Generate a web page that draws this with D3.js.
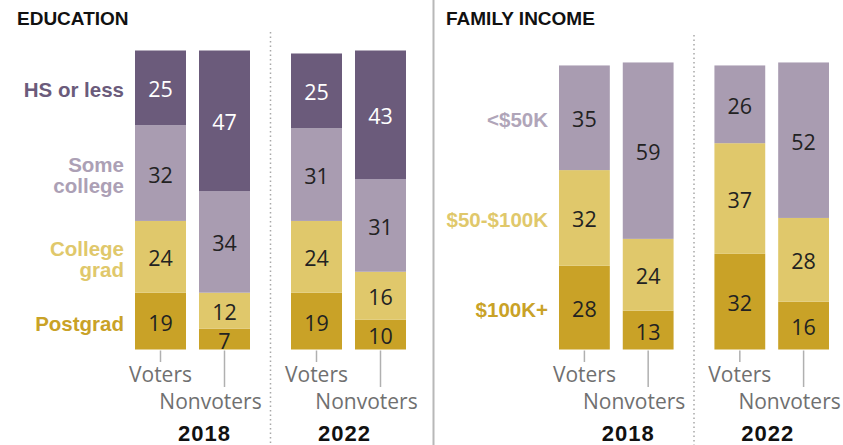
<!DOCTYPE html>
<html>
<head>
<meta charset="utf-8">
<script src="https://cdn.jsdelivr.net/npm/d3@7"></script>
<style>
  html, body { margin: 0; padding: 0; background: #fff; }
  svg { display: block; }
</style>
</head>
<body>
<svg id="chart" width="843" height="445"></svg>
<script>
// ---- data: shares (%) of each group, listed top to bottom of the stack ----
const years = ["2018", "2022"];
const groups = ["Voters", "Nonvoters"];

const eduCategories = ["HS or less", "Some college", "College grad", "Postgrad"];
const eduLabelLines = [["HS or less"], ["Some", "college"], ["College", "grad"], ["Postgrad"]];
const eduVoters2018 = [25, 32, 24, 19];
const eduNonvoters2018 = [47, 34, 12, 7];
const eduVoters2022 = [25, 31, 24, 19];
const eduNonvoters2022 = [43, 31, 16, 10];

const incomeCategories = ["<$50K", "$50-$100K", "$100K+"];
const incomeLabelLines = [["<$50K"], ["$50-$100K"], ["$100K+"]];
const incVoters2018 = [35, 32, 28];
const incNonvoters2018 = [59, 24, 13];
const incVoters2022 = [26, 37, 32];
const incNonvoters2022 = [52, 28, 16];

// ---- styling ----
const eduColors = ["#6b5b7b", "#a99cb1", "#e0c86b", "#c9a227"];
const eduLabelColors = ["#6b5b7b", "#aca0b5", "#e0c86b", "#c9a227"];
const incColors = ["#a99cb1", "#e0c86b", "#c9a227"];
const incLabelColors = ["#b0a5b9", "#e0c86b", "#c9a227"];

const svg = d3.select("#chart");
const W = 843, H = 445;
const baseY = 349.5;

const y = d3.scaleLinear().domain([0, 100]).range([baseY, baseY - 299]);

const panels = [
  {
    title: "EDUCATION", titleX: 17,
    range: [135, 406], labelX: 124, dottedTop: 32,
    categories: eduCategories, lines: eduLabelLines,
    colors: eduColors, labelColors: eduLabelColors,
    series: {
      "2018": { Voters: eduVoters2018, Nonvoters: eduNonvoters2018 },
      "2022": { Voters: eduVoters2022, Nonvoters: eduNonvoters2022 }
    }
  },
  {
    title: "FAMILY INCOME", titleX: 446,
    range: [559, 829], labelX: 548, dottedTop: 35,
    categories: incomeCategories, lines: incomeLabelLines,
    colors: incColors, labelColors: incLabelColors,
    series: {
      "2018": { Voters: incVoters2018, Nonvoters: incNonvoters2018 },
      "2022": { Voters: incVoters2022, Nonvoters: incNonvoters2022 }
    }
  }
];

const yearShift = { "2018": 12, "2022": -4 };
const sansFont = "'Open Sans', 'Liberation Sans', Arial, sans-serif";
const boldFont = "'Liberation Sans', Arial, sans-serif";

// solid divider between the two panels
svg.append("line")
  .attr("x1", 433.5).attr("x2", 433.5)
  .attr("y1", 0).attr("y2", H)
  .attr("stroke", "#b8b8b8").attr("stroke-width", 2);

panels.forEach(p => {
  const g = svg.append("g");

  const outer = d3.scaleBand().domain(years).range(p.range).paddingInner(41 / 156).paddingOuter(0);
  const inner = d3.scaleBand().domain(groups).range([0, outer.bandwidth()]).paddingInner(13 / 64).paddingOuter(0);

  // panel title
  g.append("text")
    .attr("x", p.titleX).attr("y", 25)
    .attr("font-family", boldFont).attr("font-weight", 700)
    .attr("font-size", 19).attr("fill", "#111")
    .text(p.title);

  // dotted divider between years
  const midX = (outer(years[0]) + outer.bandwidth() + outer(years[1])) / 2;
  g.append("line")
    .attr("x1", midX).attr("x2", midX)
    .attr("y1", p.dottedTop).attr("y2", H)
    .attr("stroke", "#a8a8a8").attr("stroke-width", 1.5)
    .attr("stroke-dasharray", "1.5,3");

  years.forEach(yr => {
    groups.forEach(grp => {
      const vals = p.series[yr][grp];
      const x0 = outer(yr) + inner(grp);
      const bw = inner.bandwidth();
      const cx = x0 + bw / 2;
      // stack from the bottom: last category sits at the base
      let cum = 0;
      const segs = [];
      for (let i = vals.length - 1; i >= 0; i--) {
        segs.push({ i, v: vals[i], lo: cum, hi: cum + vals[i] });
        cum += vals[i];
      }
      g.selectAll(null).data(segs).enter().append("rect")
        .attr("x", x0).attr("width", bw)
        .attr("y", d => y(d.hi)).attr("height", d => y(d.lo) - y(d.hi))
        .attr("fill", d => p.colors[d.i]);
      g.selectAll(null).data(segs).enter().append("text")
        .attr("x", cx).attr("y", d => y((d.lo + d.hi) / 2) + 1)
        .attr("text-anchor", "middle").attr("dominant-baseline", "central")
        .attr("font-family", sansFont).attr("font-size", 21.5)
        .attr("fill", d => (p.colors[d.i] === "#6b5b7b" ? "#fff" : "#222"))
        .text(d => d.v);

      // tick and group label
      const isVoters = grp === "Voters";
      g.append("line")
        .attr("x1", cx).attr("x2", cx)
        .attr("y1", baseY + 1).attr("y2", isVoters ? 362 : 387)
        .attr("stroke", "#b0b0b0").attr("stroke-width", 1.5);
      g.append("text")
        .attr("x", isVoters ? cx : cx - 14)
        .attr("y", isVoters ? 382 : 409)
        .attr("text-anchor", "middle")
        .attr("font-family", sansFont).attr("font-size", 21)
        .attr("fill", "#707070")
        .text(grp);
    });

    // year label
    g.append("text")
      .attr("x", outer(yr) + outer.bandwidth() / 2 + yearShift[yr])
      .attr("y", 441)
      .attr("text-anchor", "middle")
      .attr("font-family", boldFont).attr("font-weight", 700)
      .attr("font-size", 22).attr("letter-spacing", 1).attr("fill", "#111")
      .text(yr);
  });

  // category labels, aligned to the first bar's segments
  const firstVals = p.series[years[0]][groups[0]];
  let cum = 0;
  const centers = [];
  for (let i = firstVals.length - 1; i >= 0; i--) {
    centers[i] = y(cum + firstVals[i] / 2);
    cum += firstVals[i];
  }
  p.lines.forEach((lines, i) => {
    const lh = 21;
    const top = centers[i] + 2 - (lines.length - 1) * lh / 2;
    lines.forEach((ln, k) => {
      g.append("text")
        .attr("x", p.labelX).attr("y", top + k * lh)
        .attr("text-anchor", "end").attr("dominant-baseline", "central")
        .attr("font-family", boldFont).attr("font-weight", 700)
        .attr("font-size", 20.5).attr("fill", p.labelColors[i])
        .attr("stroke", "#fff").attr("stroke-width", 6)
        .attr("stroke-linejoin", "round").attr("paint-order", "stroke")
        .text(ln);
    });
  });
});
</script>
</body>
</html>
